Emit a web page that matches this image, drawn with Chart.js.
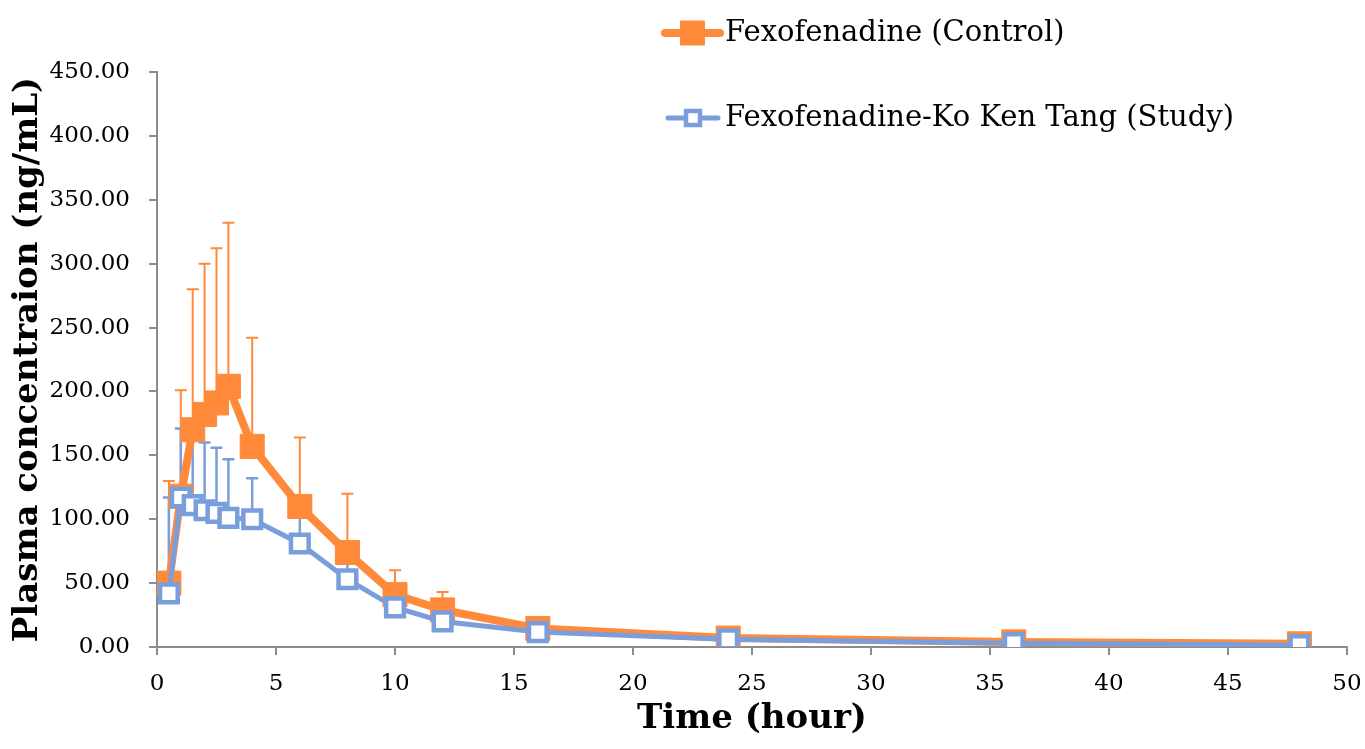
<!DOCTYPE html>
<html>
<head>
<meta charset="utf-8">
<title>Fexofenadine plasma concentration</title>
<script src="https://cdn.jsdelivr.net/npm/chart.js@4.4.1/dist/chart.umd.min.js"></script>
<style>
  html, body { margin:0; padding:0; background:#fff; }
  #wrap { width:1365px; height:749px; position:relative; }
</style>
</head>
<body>
<div id="wrap"><canvas id="chart"></canvas></div>
<script>
// ================= DATOS ==================
const TIME_H = [0.5, 1, 1.5, 2, 2.5, 3, 4, 6, 8, 10, 12, 16, 24, 36, 48];

const CONTROL_MEAN = [50, 118, 170, 182, 191, 204, 157, 110, 74, 41, 29, 14.5, 7, 4, 2.5];
const CONTROL_SD   = [80, 83, 110, 118, 121, 128, 85, 54, 46, 19, 14, 3, 2, 1, 1];

const STUDY_MEAN = [42, 117, 111, 107, 105, 101, 100, 81, 53, 31, 20, 11.7, 6, 3, 1.5];
const STUDY_SD   = [75, 54, 64, 53, 51, 46, 32, 29, 19, 8, 6, 3, 2, 1, 1];

const SERIES_LABELS = ["Fexofenadine (Control)", "Fexofenadine-Ko Ken Tang (Study)"];
const X_TICKS = { min: 0, max: 50, step: 5 };
const Y_TICKS = { min: 0, max: 450, step: 50 };

const ORANGE = "#FF8A3A";
const BLUE = "#7A9EDC";
const AXIS_GRAY = "#8C8C8C";
const FONT = "'DejaVu Serif', serif";

const toPoints = (xs, ys) => xs.map((x, i) => ({ x, y: ys[i] }));

// ============== PLUGINS ==============
// barras de error (solo hacia arriba), dibujadas detrás de las líneas
const errorBars = {
  id: "errorBars",
  beforeDatasetsDraw(chart) {
    const { ctx, scales: { x, y } } = chart;
    chart.data.datasets.forEach(ds => {
      ctx.save();
      ctx.strokeStyle = ds.errColor;
      ctx.lineWidth = ds.errWidth;
      ds.data.forEach((p, i) => {
        const sd = ds.sd[i];
        if (!sd) return;
        const px = x.getPixelForValue(p.x);
        const py = y.getPixelForValue(p.y);
        const pt = y.getPixelForValue(p.y + sd);
        ctx.beginPath();
        ctx.moveTo(px, py);
        ctx.lineTo(px, pt);
        ctx.moveTo(px - 6, pt);
        ctx.lineTo(px + 6, pt);
        ctx.stroke();
      });
      ctx.restore();
    });
  }
};

// leyenda a mano, arriba a la derecha
const customLegend = {
  id: "customLegend",
  afterDraw(chart) {
    const { ctx } = chart;
    const items = [
      { y: 33, ds: chart.data.datasets[0], lw: 8, x0: 665, x1: 720, side: 24 },
      { y: 118, ds: chart.data.datasets[1], lw: 5, x0: 668, x1: 718, side: 14 }
    ];
    items.forEach(it => {
      const cx = (it.x0 + it.x1) / 2;
      ctx.save();
      ctx.strokeStyle = it.ds.borderColor;
      ctx.lineWidth = it.lw;
      ctx.lineCap = "round";
      ctx.beginPath();
      ctx.moveTo(it.x0, it.y);
      ctx.lineTo(it.x1, it.y);
      ctx.stroke();
      ctx.lineCap = "butt";
      ctx.fillStyle = it.ds.pointBackgroundColor;
      ctx.strokeStyle = it.ds.pointBorderColor;
      ctx.lineWidth = it.ds.pointBorderWidth;
      ctx.beginPath();
      ctx.rect(cx - it.side / 2, it.y - it.side / 2, it.side, it.side);
      ctx.fill();
      ctx.stroke();
      ctx.fillStyle = "#000";
      ctx.font = "29px " + FONT;
      ctx.textBaseline = "middle";
      ctx.fillText(it.ds.label, 725, it.y);
      ctx.restore();
    });
  }
};

// ============== GRÁFICO ==============
new Chart(document.getElementById("chart").getContext("2d"), {
  type: "line",
  data: {
    datasets: [
      {
        label: SERIES_LABELS[0],
        data: toPoints(TIME_H, CONTROL_MEAN),
        sd: CONTROL_SD,
        errColor: ORANGE, errWidth: 2,
        borderColor: ORANGE, borderWidth: 8,
        pointStyle: "rect", pointRadius: 17,
        pointBackgroundColor: ORANGE, pointBorderColor: ORANGE, pointBorderWidth: 1,
        tension: 0, order: 1
      },
      {
        label: SERIES_LABELS[1],
        data: toPoints(TIME_H, STUDY_MEAN),
        sd: STUDY_SD,
        errColor: BLUE, errWidth: 2.5,
        borderColor: BLUE, borderWidth: 5,
        pointStyle: "rect", pointRadius: 12.5,
        pointBackgroundColor: "#fff", pointBorderColor: BLUE, pointBorderWidth: 4.5,
        tension: 0, order: 0
      }
    ]
  },
  options: {
    responsive: true, maintainAspectRatio: false, animation: false,
    layout: { padding: { left: 6, right: 18, top: 72, bottom: 6 } },
    plugins: { legend: { display: false }, tooltip: { enabled: false } },
    scales: {
      x: {
        type: "linear", min: X_TICKS.min, max: X_TICKS.max,
        afterFit: s => { s.height = 96; s.paddingLeft = 0; s.paddingRight = 0; },
        border: { color: AXIS_GRAY, width: 2 },
        grid: { drawOnChartArea: false, drawTicks: true, tickLength: 8, color: AXIS_GRAY, lineWidth: 2 },
        ticks: { stepSize: X_TICKS.step, color: "#000", padding: 15, maxRotation: 0, font: { family: FONT, size: 23 } },
        title: { display: true, text: "Time (hour)", color: "#000", padding: 3, font: { family: FONT, size: 34, weight: "bold" } }
      },
      y: {
        min: Y_TICKS.min, max: Y_TICKS.max,
        afterFit: s => { s.width = 151; },
        border: { color: AXIS_GRAY, width: 2 },
        grid: { drawOnChartArea: false, drawTicks: true, tickLength: 8, color: AXIS_GRAY, lineWidth: 2 },
        ticks: { stepSize: Y_TICKS.step, color: "#000", padding: 19, font: { family: FONT, size: 23 },
                 callback: v => Number(v).toFixed(2) },
        title: { display: true, text: "Plasma concentraion (ng/mL)", color: "#000", padding: 2, font: { family: FONT, size: 34, weight: "bold" } }
      }
    }
  },
  plugins: [errorBars, customLegend]
});
</script>
</body>
</html>
